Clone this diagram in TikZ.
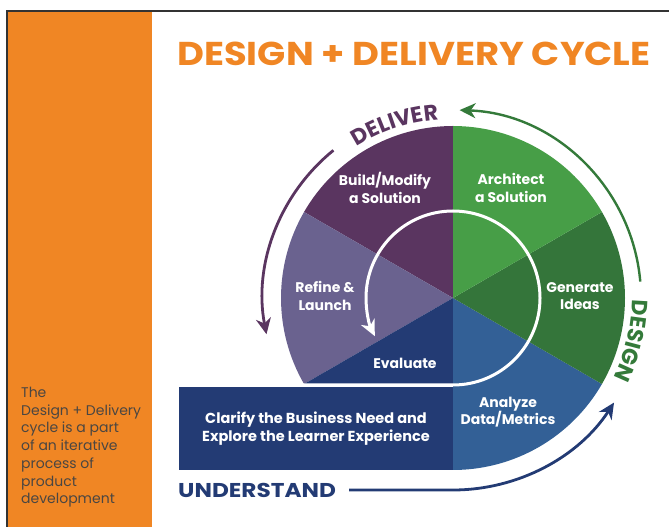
\documentclass[tikz,border=0pt]{standalone}
\usepackage{fontspec}
\setmainfont{Poppins}
\usepackage{tikz}
\usetikzlibrary{arrows.meta, calc, decorations.text}
\definecolor{cycorange}{RGB}{240, 134, 36}
\definecolor{deliverpurple}{RGB}{90, 53, 96}
\definecolor{refinelav}{RGB}{106, 98, 143}
\definecolor{evalnavy}{RGB}{35, 59, 116}
\definecolor{analyzeblue}{RGB}{51, 96, 150}
\definecolor{ideagreen}{RGB}{52, 117, 58}
\definecolor{archgreen}{RGB}{71, 158, 71}
\definecolor{designgreen}{RGB}{52, 122, 58}
\definecolor{notegray}{RGB}{74, 70, 66}
\newcommand\phasefont{\fontsize{22}{24}\selectfont\bfseries}
\tikzset{
  wedge/.style={fill=#1, draw=none},
  steplabel/.style={text=white, align=center, inner sep=0pt, font=\fontsize{14}{17.5}\selectfont\bfseries},
  phasearrow/.style={draw=#1, line width=2.8pt, -{Stealth[length=16pt, width=15pt, inset=5pt]}},
  phasetext/.style={decorate, decoration={text along path, text={|\phasefont|#1}, text align=center}},
}

\begin{document}
\begin{tikzpicture}[x=1pt, y=1pt]
\useasboundingbox (0,0) rectangle (669,527);
% frame and side bar
\fill[cycorange] (8,0) rectangle (152,515);
\draw[line width=2pt, black!80] (7,0) -- (7,516) -- (669,516);
\node[anchor=north west, align=left, inner sep=0pt, text=notegray,
  font=\fontsize{14}{17.7}\selectfont] (note) at (21,140)
  {The\\Design + Delivery\\cycle is a part\\of an iterative\\process of\\product\\development};

\node[text=cycorange, font=\fontsize{33}{36}\selectfont\bfseries] (title) at (414,473)
  {\scalebox{1.12}[1]{DESIGN + DELIVERY CYCLE}};

% the wheel
\coordinate (c) at (453,229);
\foreach \a/\col in {90/deliverpurple, 150/refinelav, 210/evalnavy, 270/analyzeblue, 330/ideagreen, 30/archgreen}
  \fill[wedge=\col] (c) -- ++(\a:172) arc[start angle=\a, delta angle=60, radius=172] -- cycle;
\fill[white] (278,54) rectangle (453,142);
\node[fill=evalnavy, minimum width=274pt, minimum height=83pt, inner sep=0pt] (clarify) at (316,98.5) {};
\node[steplabel, font=\fontsize{14.5}{18}\selectfont\bfseries] at (clarify) {Clarify the Business Need and\\Explore the Learner Experience};

% inner loop
\coordinate (loopstart) at (296,142);
\draw[white, line width=3pt, -{Stealth[length=16pt, width=15pt, inset=5pt]}]
  (loopstart) -- ($(c)+(270:87)$) arc[start angle=270, end angle=566, radius=87];

\node[steplabel] (build) at (385,339) {Build/Modify\\a Solution};
\node[steplabel] (architect) at (511,339) {Architect\\a Solution};
\node[steplabel] (refine) at (325,231) {Refine \&\\Launch};
\node[steplabel] (generate) at (580,231) {Generate\\Ideas};
\node[steplabel] (evaluate) at (405,164) {Evaluate};
\node[steplabel] (analyze) at (508,115) {Analyze\\Data/Metrics};

% phase arrows round the wheel
\coordinate (delstart) at ($(c)+(129:190)$);
\draw[phasearrow=deliverpurple] (delstart) arc[start angle=129, end angle=191, radius=190];
\coordinate (desstart) at ($(c)+(5:188)$);
\draw[phasearrow=designgreen, line width=2.4pt] (desstart) arc[start angle=5, end angle=88, radius=188];
\node[anchor=west, inner sep=0pt, text=evalnavy, font=\fontsize{20}{24}\selectfont\bfseries] (understand) at (178,37)
  {\scalebox{1.16}[1]{UNDERSTAND}};
\coordinate (undcorner) at ($(c)+(270:192)$);
\draw[phasearrow=evalnavy] ([xshift=13pt]understand.east) -- (undcorner) arc[start angle=270, end angle=327, radius=192];

\path[phasetext=DELIVER, decoration={text color=deliverpurple}] ($(c)+(140:179)$) arc[start angle=140, end angle=77, radius=179];
\path[phasetext=DESIGN, decoration={text color=designgreen}] ($(c)+(20:179)$) arc[start angle=20, end angle=-47, radius=179];
\end{tikzpicture}
\end{document}
